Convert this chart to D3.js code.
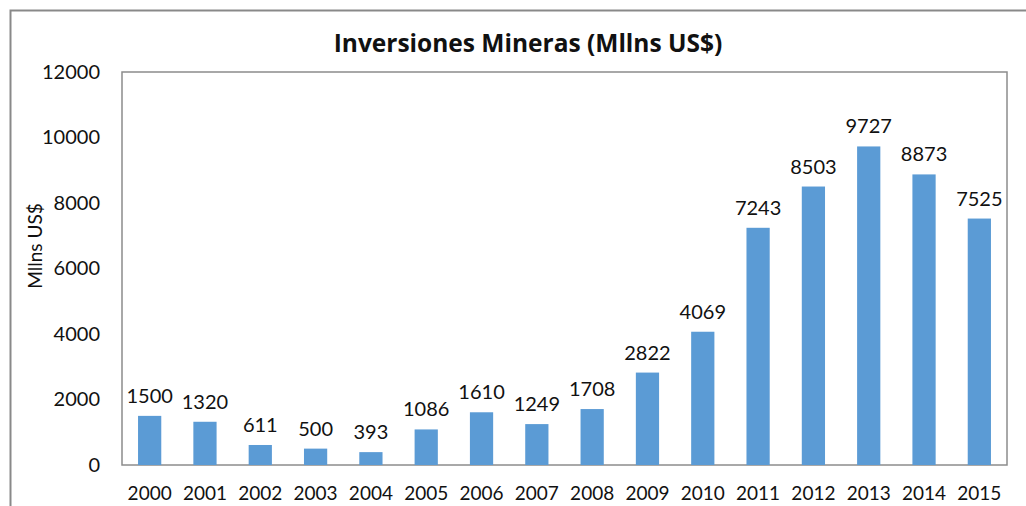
<!DOCTYPE html>
<html><head><meta charset="utf-8">
<script src="https://cdn.jsdelivr.net/npm/d3@7"></script>
<style>body{margin:0;background:#fff}svg{display:block}</style>
</head><body><svg id="c" width="1026" height="506"></svg>
<script>
const years = ["2000","2001","2002","2003","2004","2005","2006","2007","2008","2009","2010","2011","2012","2013","2014","2015"];
const values = [1500,1320,611,500,393,1086,1610,1249,1708,2822,4069,7243,8503,9727,8873,7525];
const yTicks = [0,2000,4000,6000,8000,10000,12000];
const title = "Inversiones Mineras (Mllns US$)";
const yTitle = "Mllns US$";

const svg = d3.select("#c");
const font = "Lato, 'Open Sans', sans-serif";
const m = {l:122, t:72, r:1007, b:465};

// outer border
svg.append("path").attr("d",`M10.5,506 V10.5 H1026`).attr("fill","none").attr("stroke","#898989").attr("stroke-width",2);

const x = d3.scaleBand().domain(years).range([m.l,m.r]).paddingInner(0.58).paddingOuter(0.29);
const y = d3.scaleLinear().domain([0,12000]).range([m.b,m.t]);

// plot border
svg.append("rect").attr("x",m.l).attr("y",m.t).attr("width",m.r-m.l).attr("height",m.b-m.t)
  .attr("fill","none").attr("stroke","#8c8c8c").attr("stroke-width",1.5);

svg.append("g").selectAll("rect").data(values).join("rect")
  .attr("x",(d,i)=>x(years[i])).attr("width",x.bandwidth())
  .attr("y",d=>y(d)).attr("height",d=>y(0)-y(d)).attr("fill","#5B9BD5");

svg.append("g").selectAll("text").data(values).join("text")
  .attr("x",(d,i)=>x(years[i])+x.bandwidth()/2).attr("y",d=>y(d)-13)
  .attr("text-anchor","middle").attr("font-family",font).attr("font-size",20).attr("fill","#111")
  .text(d=>d);

const ya = d3.axisLeft(y).tickValues(yTicks).tickSize(0).tickPadding(22).tickFormat(d3.format("d"));
const gy = svg.append("g").attr("transform",`translate(${m.l},0)`).call(ya);
gy.select(".domain").remove();
gy.selectAll("text").attr("font-family",font).attr("font-size",20).attr("fill","#111");

const xa = d3.axisBottom(x).tickSize(0).tickPadding(22);
const gx = svg.append("g").attr("transform",`translate(0,${m.b})`).call(xa);
gx.select(".domain").remove();
gx.selectAll("text").attr("font-family",font).attr("font-size",19).attr("fill","#111");

svg.append("text").attr("x",528).attr("y",52).attr("text-anchor","middle")
  .attr("font-family","'Open Sans', sans-serif").attr("font-weight","bold").attr("font-size",24.5).attr("fill","#111").text(title);

svg.append("text").attr("transform","translate(42,246) rotate(-90)").attr("text-anchor","middle")
  .attr("font-family",font).attr("font-size",19).attr("fill","#111").text(yTitle);
</script></body></html>
